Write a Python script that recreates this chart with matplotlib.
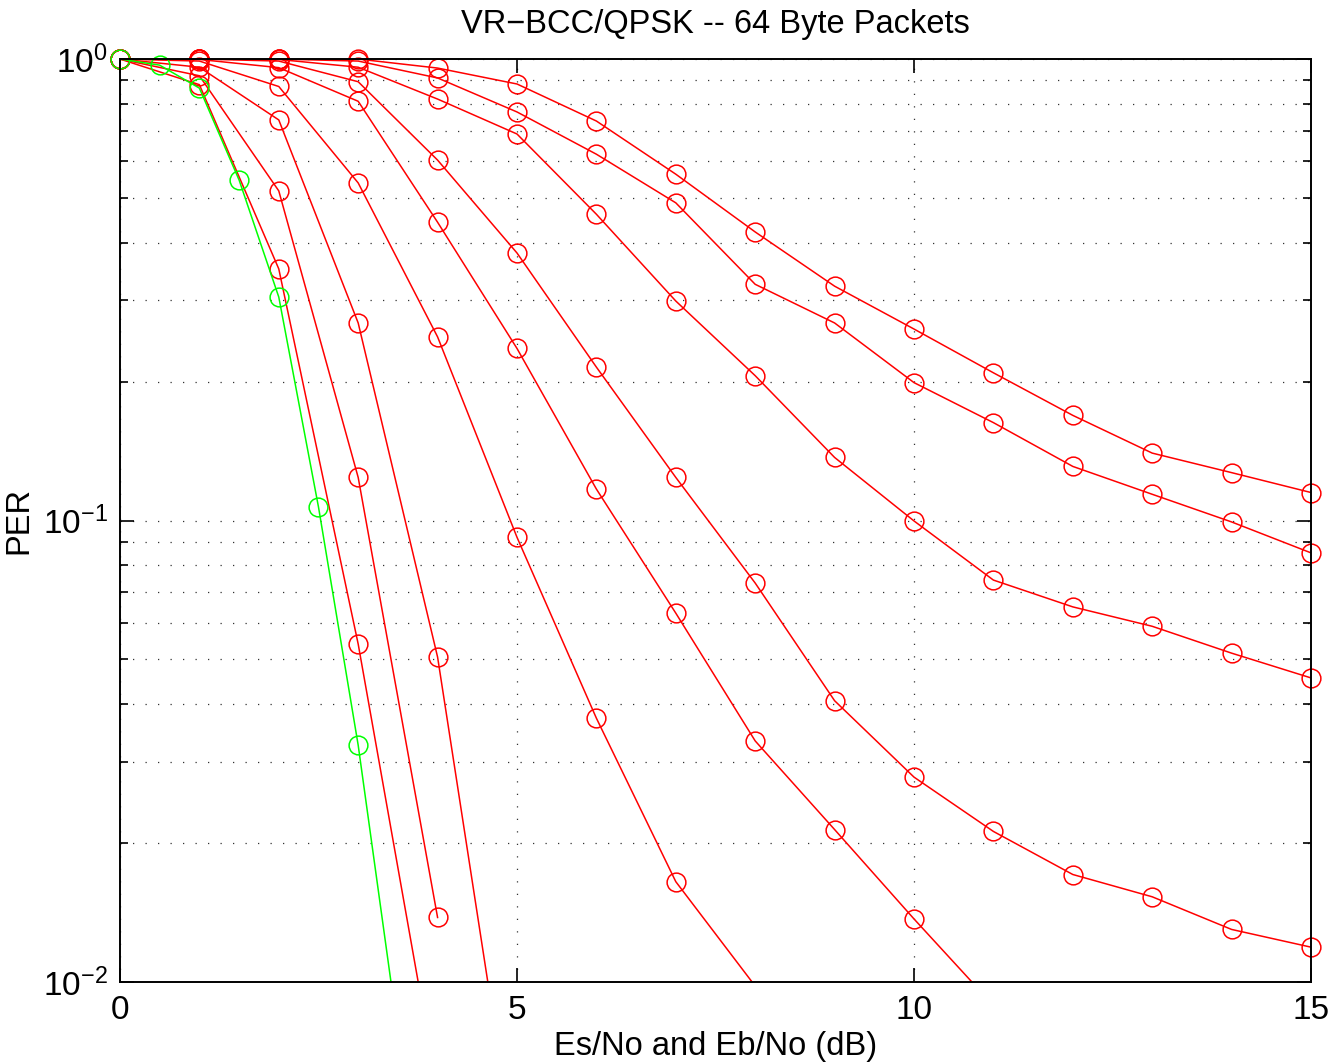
import numpy as np
import matplotlib
matplotlib.use('Agg')
matplotlib.rcParams['font.family'] = 'Liberation Sans'
matplotlib.rcParams['mathtext.fontset'] = 'custom'
matplotlib.rcParams['mathtext.rm'] = 'Liberation Sans'
matplotlib.rcParams['axes.unicode_minus'] = True
import matplotlib.pyplot as plt
from matplotlib.ticker import LogLocator, NullFormatter

# Es/No grid of the coded curves (dB)
snr = np.arange(0, 16)

# red curves, PER (top curve first)
per_a = [1, 1, 1, 1, 0.956, 0.883, 0.734, 0.563, 0.422, 0.322, 0.260, 0.209, 0.169, 0.140, 0.127, 0.115]
per_b = [1, 1, 1, 0.99, 0.910, 0.768, 0.622, 0.488, 0.325, 0.268, 0.199, 0.163, 0.131, 0.114, 0.0993, 0.0851]
per_c = [1, 1, 0.998, 0.96, 0.819, 0.688, 0.461, 0.299, 0.206, 0.137, 0.0998, 0.0743, 0.065, 0.059, 0.0516, 0.0456]
per_d = [1, 1, 0.99, 0.893, 0.604, 0.380, 0.215, 0.124, 0.0732, 0.0407, 0.0278, 0.0212, 0.0171, 0.0153, 0.0130, 0.0119]
per_e = [1, 0.998, 0.958, 0.81, 0.443, 0.236, 0.117, 0.063, 0.0333, 0.0214, 0.0137, 0.0089]
per_f = [1, 0.99, 0.872, 0.539, 0.250, 0.092, 0.0373, 0.0165, 0.0098]
per_g = [1, 0.96, 0.738, 0.268, 0.0506, 0.0039]
per_h = [1, 0.92, 0.518, 0.124, 0.0138]
per_i = [1, 0.88, 0.351, 0.054, 0.0058]
red_curves = [per_a, per_b, per_c, per_d, per_e, per_f, per_g, per_h, per_i]

# green curve (half dB steps)
snr_green = [0, 0.5, 1, 1.5, 2, 2.5, 3, 3.5]
per_green = [1, 0.97, 0.865, 0.547, 0.305, 0.107, 0.0326, 0.0078]

fig = plt.figure(figsize=(13.36, 10.62), dpi=100)
ax = fig.add_axes([0.0898, 0.0753, 0.8915, 0.8691])

def draw(x, y, color):
    x = np.asarray(x, dtype=float)
    y = np.asarray(y, dtype=float)
    ax.plot(x, y, '-', color=color, lw=1.1)
    # markers below the axis floor are left out, as in the original
    keep = y >= 1e-2
    ax.plot(x[keep], y[keep], 'o', mfc='none', mec=color, ms=13.5, mew=1.1, clip_on=False)

for per in red_curves:
    draw(snr[:len(per)], per, (1, 0, 0))
draw(snr_green, per_green, (0, 1, 0))

ax.set_yscale('log')
ax.set_xlim(0, 15)
ax.set_ylim(1e-2, 1)
ax.set_xticks([0, 5, 10, 15])
ax.yaxis.set_major_locator(LogLocator(base=10))
ax.yaxis.set_minor_locator(LogLocator(base=10, subs=np.arange(2, 10)))
ax.yaxis.set_minor_formatter(NullFormatter())
ax.tick_params(which='both', direction='in', top=True, right=True, labelsize=24, width=1.2)
ax.tick_params(which='major', length=10, pad=9)
ax.tick_params(which='minor', length=6)
ax.grid(True, which='major', axis='x', color='#333333', linestyle=(0, (1, 9)), lw=0.9)
ax.grid(True, which='both', axis='y', color='#333333', linestyle=(0, (1, 9)), lw=0.9)
for s in ax.spines.values():
    s.set_linewidth(1.4)

ax.set_title('VR\u2212BCC/QPSK -- 64 Byte Packets', fontsize=23.5, pad=19)
ax.set_xlabel('Es/No and Eb/No (dB)', fontsize=23.5, labelpad=4)
ax.set_ylabel('PER', fontsize=23.5, labelpad=6)

fig.savefig('out.png', dpi=100)
